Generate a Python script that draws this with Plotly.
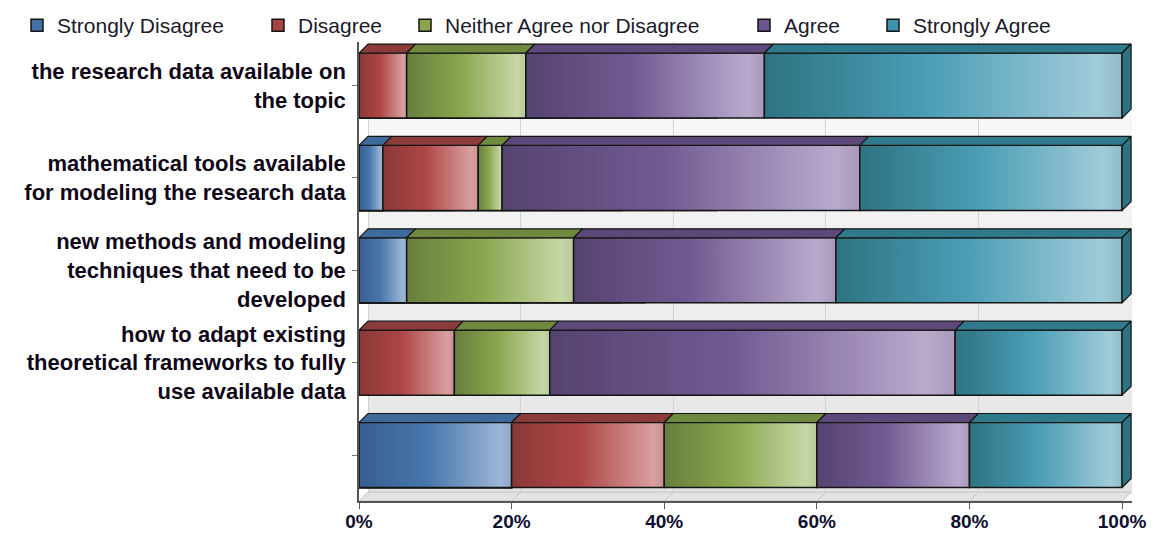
import base64
import plotly.graph_objects as go

# ---------------- data ----------------
categories = [
    "the research data available on<br>the topic",
    "mathematical tools available<br>for modeling the research data",
    "new methods and modeling<br>techniques that need to be<br>developed",
    "how to adapt existing<br>theoretical frameworks to fully<br>use available data",
    "",
]
series_names = ["Strongly Disagree", "Disagree", "Neither Agree nor Disagree", "Agree", "Strongly Agree"]
strongly_disagree = [0.0, 3.125, 6.25, 0.0, 20.0]
disagree = [6.25, 12.5, 0.0, 12.5, 20.0]
neither = [15.625, 3.125, 21.875, 12.5, 20.0]
agree = [31.25, 46.875, 34.375, 53.125, 20.0]
strongly_agree = [46.875, 34.375, 37.5, 21.875, 20.0]
x_ticks = [0, 20, 40, 60, 80, 100]
x_tick_labels = ["0%", "20%", "40%", "60%", "80%", "100%"]

# ---------------- styles ----------------
series_values = [strongly_disagree, disagree, neither, agree, strongly_agree]
base_colors = ["#4570a6", "#a64444", "#8aa64c", "#6c5490", "#3d93ad"]
grad_stops = [
    ["#375f8f", "#4877ad", "#9db6d6", "#8fa8c8"],
    ["#8a3838", "#ae4646", "#d9a0a0", "#c89090"],
    ["#687e3e", "#8aa64e", "#c6d7a6", "#b5c698"],
    ["#554370", "#715a92", "#b9aacd", "#a899bc"],
    ["#2e7382", "#4a9db5", "#a0cbd9", "#90bac8"],
]
top_colors = ["#3e6a9c", "#8c3b3b", "#6f8a3e", "#5c4879", "#2f7b8c"]
side_color = "#2c7384"
edge = "#151515"
half_h = 0.352      # half bar thickness (category units)
dep_x = 1.18        # 3D depth in x units
dep_y = 0.097       # 3D depth in y units
OFF = 8             # page body margin compensation (px)
W, H = 1157 - OFF, 534 - OFF
legend_x_px = [9, 250, 397, 736, 865]   # legend entry anchors (figure px)
ypos = list(range(len(categories)))
y_lo, y_hi = 4.498, -0.471
xmax = 101.3

fig = go.Figure()

# data bars (legend carriers, covered by the shaded faces)
legend_ids = ["legend", "legend2", "legend3", "legend4", "legend5"]
for name, vals, col, lid in zip(series_names, series_values, base_colors, legend_ids):
    fig.add_trace(go.Bar(
        name=name, y=ypos, x=vals, orientation="h", width=2 * half_h,
        marker=dict(color=col, line=dict(color=edge, width=1.5)),
        legend=lid,
        hovertemplate="%{x:.1f}%<extra>" + name + "</extra>",
    ))

# cumulative starts
starts = []
acc = [0.0] * len(categories)
for vals in series_values:
    starts.append(acc[:])
    acc = [a + v for a, v in zip(acc, vals)]
totals = acc

# front faces with horizontal gradient
for s, vals in enumerate(series_values):
    for i, v in enumerate(vals):
        if v <= 0:
            continue
        x0, x1 = starts[s][i], starts[s][i] + v
        y0, y1 = ypos[i] - half_h, ypos[i] + half_h
        st = grad_stops[s]
        fig.add_trace(go.Scatter(
            x=[x0, x1, x1, x0, x0], y=[y0, y0, y1, y1, y0],
            mode="lines", fill="toself",
            line=dict(color=edge, width=1.5),
            fillgradient=dict(type="horizontal", start=x0, stop=x1,
                              colorscale=[[0, st[0]], [0.45, st[1]], [0.93, st[2]], [1, st[3]]]),
            showlegend=False, hoverinfo="skip",
        ))

# top faces
for s, vals in enumerate(series_values):
    xs, ys = [], []
    for i, v in enumerate(vals):
        if v <= 0:
            continue
        x0, x1 = starts[s][i], starts[s][i] + v
        yt = ypos[i] - half_h
        xs += [x0, x1, x1 + dep_x, x0 + dep_x, x0, None]
        ys += [yt, yt, yt - dep_y, yt - dep_y, yt, None]
    fig.add_trace(go.Scatter(
        x=xs, y=ys, mode="lines", fill="toself", fillcolor=top_colors[s],
        line=dict(color=edge, width=1.2), showlegend=False, hoverinfo="skip",
    ))

# right side faces
xs, ys = [], []
for i, t in enumerate(totals):
    yt, yb = ypos[i] - half_h, ypos[i] + half_h
    xs += [t, t + dep_x, t + dep_x, t, t, None]
    ys += [yt, yt - dep_y, yb - dep_y, yb, yt, None]
fig.add_trace(go.Scatter(
    x=xs, y=ys, mode="lines", fill="toself", fillcolor=side_color,
    line=dict(color=edge, width=1.2), showlegend=False, hoverinfo="skip",
))

# dummy trace to render the shifted back-wall grid axis
fig.add_trace(go.Scatter(x=[None], y=[None], xaxis="x2", showlegend=False, hoverinfo="skip"))

# floor of the 3D box
floor_path = (f"M 0,{y_lo} L 100,{y_lo} L {100 + dep_x},{y_lo - dep_y} "
              f"L {dep_x},{y_lo - dep_y} Z")
shapes = [dict(type="path", path=floor_path, xref="x", yref="y", layer="between",
               fillcolor="#e2e2e2", line=dict(color="#c4c4c4", width=1))]
for v in x_ticks:
    shapes.append(dict(type="line", xref="x", yref="y", layer="between",
                       x0=v, y0=y_lo, x1=v + dep_x, y1=y_lo - dep_y,
                       line=dict(color="#c8c8c8", width=1)))

# background gradient (back wall)
svg = ('<svg xmlns="http://www.w3.org/2000/svg" width="10" height="100" preserveAspectRatio="none">'
       '<defs><linearGradient id="g" x1="0" y1="0" x2="0" y2="1">'
       '<stop offset="0" stop-color="#fbfbfb"/><stop offset="1" stop-color="#e3e3e3"/>'
       '</linearGradient></defs><rect width="10" height="100" fill="url(#g)"/></svg>')
bg_uri = "data:image/svg+xml;base64," + base64.b64encode(svg.encode()).decode()

legend_common = dict(orientation="h", xref="container", yref="container", y=1 - (25.5 - OFF) / H,
                     yanchor="middle", xanchor="left",
                     font=dict(size=21, color="#1a1a2a", family="Liberation Sans, Arial"),
                     bgcolor="rgba(0,0,0,0)", itemclick=False, itemdoubleclick=False)
legends = {lid: dict(legend_common, x=px / W) for lid, px in zip(legend_ids, legend_x_px)}

fig.update_layout(
    width=W, height=H,
    margin=dict(l=359 - OFF, r=25, t=42 - OFF, b=33, autoexpand=False),
    paper_bgcolor="white", plot_bgcolor="rgba(0,0,0,0)",
    barmode="overlay",
    font=dict(family="Liberation Sans, Arial, sans-serif", color="#111122"),
    images=[dict(source=bg_uri, xref="paper", yref="paper", x=dep_x / xmax, y=1,
                 sizex=1 - dep_x / xmax, sizey=0.985,
                 sizing="stretch", layer="below", xanchor="left", yanchor="top")],
    shapes=shapes,
    xaxis=dict(range=[0, xmax], tickvals=x_ticks, ticktext=x_tick_labels, showgrid=False,
               zeroline=False, automargin=False,
               showline=True, linecolor="#555555", linewidth=1.5, ticks="outside", ticklen=6,
               tickcolor="#555555", ticklabelstandoff=-4,
               tickfont=dict(size=19, family="Liberation Sans, Arial", color="#101030", weight="bold")),
    xaxis2=dict(range=[-dep_x, xmax - dep_x], overlaying="x", tickvals=x_ticks, showticklabels=False,
                showgrid=True, gridcolor="#d2d2d2", gridwidth=1, zeroline=False, showline=False,
                automargin=False),
    yaxis=dict(range=[y_lo, y_hi], tickvals=ypos, ticktext=categories, showgrid=False,
               zeroline=False, showline=True, linecolor="#555555", linewidth=1.5, automargin=False,
               ticks="outside", ticklen=5, tickcolor="#777777", ticklabelstandoff=2,
               tickfont=dict(size=22, family="Liberation Sans, Arial", color="#100818", weight="bold")),
    showlegend=True,
    **legends,
)

fig.write_html("out.html")
